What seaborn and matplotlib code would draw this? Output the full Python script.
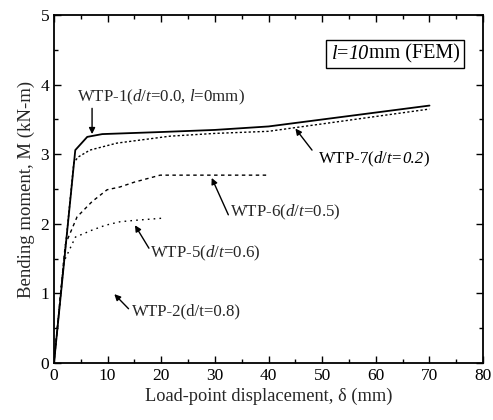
import matplotlib
matplotlib.use("Agg")
import matplotlib.pyplot as plt
import seaborn as sns
import pandas as pd
from matplotlib.offsetbox import TextArea, HPacker, AnnotationBbox

# Data
wtp1_x = [0, 3.97, 6.2, 9.0, 20, 30, 40, 70]
wtp1_y = [0, 3.06, 3.25, 3.29, 3.32, 3.35, 3.40, 3.70]

wtp7_x = [0, 3.7, 4.5, 6.7, 11.7, 21.6, 30, 40, 70]
wtp7_y = [0, 2.88, 2.96, 3.06, 3.16, 3.26, 3.30, 3.33, 3.65]

wtp6_x = [0, 2.1, 4.3, 7.1, 9.9, 12.3, 15, 19.8, 40]
wtp6_y = [0, 1.70, 2.10, 2.32, 2.49, 2.53, 2.60, 2.70, 2.70]

wtp5_x = [0, 1.8, 4.0, 7.1, 9.6, 12.3, 15, 20]
wtp5_y = [0, 1.45, 1.81, 1.91, 1.98, 2.03, 2.05, 2.08]

sns.set_style("ticks")
plt.rcParams['font.family'] = ['Liberation Serif', 'DejaVu Serif']
plt.rcParams['mathtext.fontset'] = 'custom'
plt.rcParams['mathtext.rm'] = 'Liberation Serif'
plt.rcParams['mathtext.it'] = 'Liberation Serif:italic'

fig = plt.figure(figsize=(4.93, 4.20), dpi=100)
ax = fig.add_axes([0.1095, 0.1357, 0.8705, 0.8283])

series = [
    (wtp1_x, wtp1_y, '-', 1.3),
    (wtp7_x, wtp7_y, (0, (1.6, 1.6)), 1.0),
    (wtp6_x, wtp6_y, (0, (2.5, 2.5)), 1.0),
    (wtp5_x, wtp5_y, (0, (1.2, 3.0)), 1.0),
]
for xs, ys, ls, lw in series:
    df = pd.DataFrame({'x': xs, 'y': ys})
    sns.lineplot(data=df, x='x', y='y', sort=False, ax=ax, color='black',
                 linestyle=ls, linewidth=lw, estimator=None)

ax.set_xlim(0, 80)
ax.set_ylim(0, 5)
ax.set_xticks(range(0, 81, 10))
ax.set_xticks(range(0, 81, 5), minor=True)
ax.set_yticks(range(0, 6))
ax.set_yticks([i * 0.5 for i in range(11)], minor=True)
ax.tick_params(which='both', direction='in', top=True, right=True, labelsize=12.5, colors='black')
ax.tick_params(which='major', length=5, width=1)
ax.tick_params(which='minor', length=3, width=1)
for s in ax.spines.values():
    s.set_linewidth(1.3)
    s.set_color('black')

ax.set_xlabel('Load-point displacement, δ (mm)', fontsize=13.2, labelpad=3)
ax.set_ylabel('Bending moment, M (kN-m)', fontsize=13.5, labelpad=4)

arrow = dict(arrowstyle='-|>', color='black', lw=1.0, mutation_scale=9, shrinkA=0, shrinkB=0)
fs = 12.2


def rich(segments, xy, size, frame=False):
    children = [TextArea(t, textprops=dict(fontsize=size, fontstyle=('italic' if it else 'normal'),
                                           color='black'))
                for t, it in segments]
    pack = HPacker(children=children, align='baseline', pad=0, sep=0)
    ab = AnnotationBbox(pack, xy, xycoords='data', box_alignment=(0, 0.5) if not frame else (0.5, 0.5),
                        frameon=frame, pad=0.3 if frame else 0,
                        bboxprops=dict(boxstyle='square', fc='white', ec='black', lw=1.0))
    ax.add_artist(ab)


ax.text(4.3, 3.82, r'WTP-1($d/t$=0.0, $l$=0mm)', fontsize=fs, ha='left', va='center')
ax.annotate('', xy=(7.1, 3.29), xytext=(7.1, 3.66), arrowprops=arrow)

rich([(r'WTP-7($d/t$=', False), ('0.2', True), (')', False)], (49.3, 2.93), fs)
ax.annotate('', xy=(45, 3.37), xytext=(48.1, 3.06), arrowprops=arrow)

ax.text(32.8, 2.16, r'WTP-6($d/t$=0.5)', fontsize=fs, ha='left', va='center')
ax.annotate('', xy=(29.4, 2.66), xytext=(32.5, 2.13), arrowprops=arrow)

ax.text(17.9, 1.58, r'WTP-5($d/t$=0.6)', fontsize=fs, ha='left', va='center')
ax.annotate('', xy=(15.1, 1.98), xytext=(17.7, 1.65), arrowprops=arrow)

ax.text(14.5, 0.74, 'WTP-2(d/t=0.8)', fontsize=fs, ha='left', va='center')
ax.annotate('', xy=(11.25, 0.99), xytext=(13.9, 0.78), arrowprops=arrow)

rich([(r'$l$=', False), ('10', True), ('mm (FEM)', False)], (63.6, 4.44), 14.5, frame=True)

fig.savefig('out.png', dpi=100)
